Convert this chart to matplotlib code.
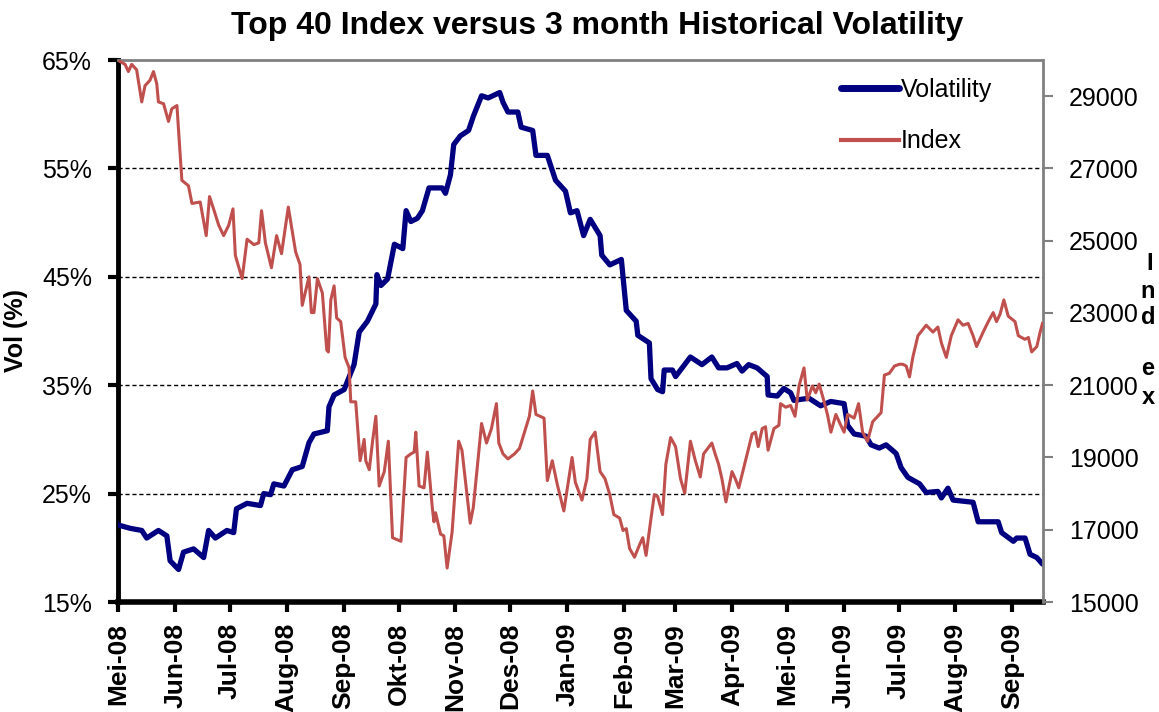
import matplotlib
matplotlib.use("Agg")
import matplotlib.pyplot as plt
from matplotlib import font_manager
import pandas as pd

# ---------------- data ----------------
start_date = "2008-05-01"

vol_days = [0, 6.4, 12.8, 15.5, 21.9, 26.5, 28.3, 32.9, 35.6, 41.1, 46.6, 49.3, 53, 59.3, 63, 64.5,
            70.3, 77.6, 79.4, 83.1, 84.9, 90.4, 95, 100.4, 104.1, 106.8, 114.1, 115, 117.8, 123.3,
            128.7, 131.5, 136, 140.6, 141.2, 143.4, 147, 150.7, 155.3,
            157.1, 159.7, 163.3, 166, 169.6, 176.8, 178.6, 181.3, 183.1, 186.7, 191.2, 193.8, 198.3,
            201.9, 208.2, 210, 212.7, 218.1, 219.9, 226.2, 228, 234.2, 238.7, 244.1, 246.8, 250.4,
            254, 257.6, 263, 263.9, 268.3, 274.6, 277.3, 282.7, 283.6, 289.9, 290.8, 294.4, 297.1,
            298, 302.5, 304.2, 312.3, 318.6, 324,
            327.7, 332.3, 337.7, 340.5, 344.1, 348.7, 354.2, 354.7, 359.7, 363.3, 367, 368.8, 377,
            383.4, 388.9, 396.2, 398.1, 401.7, 408.1, 410.9, 415.4, 419.1, 424.6, 427.3, 431, 437.4,
            441, 447.4, 449.3, 452.9, 455.7, 466.6, 469.4, 480.3, 482.2, 488.6, 490.4, 495, 497.7,
            501.4, 504.5]
vol_values = [22.1, 21.8, 21.6, 20.9, 21.6, 21.1, 18.8, 18.0, 19.6, 19.9, 19.1, 21.6, 20.9, 21.6, 21.4, 23.6,
              24.1, 23.9, 25.0, 24.9, 25.9, 25.7, 27.2, 27.5, 29.7, 30.5, 30.8, 33.0, 34.1, 34.6,
              36.9, 39.9, 40.9, 42.5, 45.2, 44.2, 44.8, 48.0, 47.6,
              51.1, 50.1, 50.4, 51.1, 53.2, 53.2, 52.7, 54.4, 57.2, 58.0, 58.5, 59.8, 61.7,
              61.5, 62.0, 61.1, 60.2, 60.2, 58.8, 58.5, 56.2, 56.2, 53.9, 52.9, 50.9, 51.1,
              48.8, 50.3, 48.8, 47.0, 46.1, 46.6, 41.9, 40.9, 39.6, 38.9, 35.6, 34.6, 34.4,
              36.4, 36.4, 35.8, 37.6, 36.9, 37.6,
              36.6, 36.6, 37.0, 36.3, 36.9, 36.6, 35.8, 34.1, 34.0, 34.7, 34.3, 33.6, 33.8,
              33.1, 33.5, 33.3, 31.3, 30.5, 30.3, 29.5, 29.2, 29.5, 28.7, 27.4, 26.5, 25.9,
              25.1, 25.2, 24.6, 25.5, 24.4, 24.2, 22.4, 22.4, 21.4, 20.6, 20.9, 20.9, 19.4,
              19.1, 18.5]

index_days = [0.9, 3.7, 5.5, 7.3, 10, 12.8, 14.6, 17.3, 19.2, 21, 21.9, 24.7, 27.4, 29.2, 32, 34.7,
              38.3, 40.2, 44.7, 48, 49.8, 52, 54.8, 57.5, 60.3, 62.6, 63.9, 67.6, 70.3, 74, 76.7,
              78.2, 80.3, 83.6, 86.4, 89.1, 92.8, 96.8, 99.2, 100.4, 104.1, 105.4, 106.8, 108.7,
              111.4, 113.8, 114.7, 116, 117.8, 119.2, 121.4, 123.8, 126, 126.9, 129.6, 132, 134.2,
              135.1, 137, 138.8, 140.6, 142.4, 145.2, 147.4, 149.7, 154.3,
              157.1, 159.7, 161.5, 162.4, 164.2, 166.9, 168.7, 171.4, 172.3, 173.2, 175.9, 177.7,
              179.5, 182.2, 185.8, 187.6, 192.1, 193.8, 198.3, 201, 203.7, 206.4, 207.7, 210, 212.7,
              216.3, 219, 221.7, 224.4, 226.2, 228, 232.4, 234.2, 236.9, 239.6, 243.2, 247.7, 249.5,
              253.1, 255.8, 257.6, 260.3, 263, 265.7, 268.3, 270.5, 273.7, 275.5, 277.3, 279.1,
              281.8, 284.5, 286.3, 288.1, 290.8, 292.6, 294.4, 297.1, 298.9, 301.5, 304.2, 306.9,
              309.2, 312.3, 315, 317.7, 319.5, 324, 325.8,
              327.7, 329.5, 331.7, 335, 336.8, 338.7, 341.4, 344.1, 346, 347.8, 349.3, 351.5, 353.3,
              354.7, 357.9, 360.6, 361.5, 364.3, 367, 369.4, 371.6, 374.3, 376.1, 378.9, 380.7,
              382.6, 385.3, 387.1, 389, 391.7, 394.4, 396.2, 398.1, 401.7, 404.1, 406.3, 409, 411.8,
              416.4, 418.2, 420.9, 423.7, 426.4, 428.2, 430.1, 431.9, 433.7, 436.5, 441, 444.7,
              447.4, 449.3, 452, 454.7, 458.4, 461.1, 463.9, 466.6, 468.5, 472.1, 474.9, 477.6,
              479.4, 481.3, 483.4, 485.8, 489.5, 491.3, 494.9, 496.8, 498.6, 501.4, 503.2, 504.5]
index_values = [29960, 29880, 29680, 29880, 29730, 28840, 29290, 29440, 29680, 29340, 28840, 28790, 28300,
                28650, 28740, 26670, 26520, 26030, 26070, 25140, 26220, 25880, 25430, 25140, 25430,
                25880, 24590, 23950, 25040, 24890, 24940, 25830, 24940, 24250, 25140, 24640, 25930,
                24690, 24340, 23210, 24000, 23010, 23010, 23950, 23550, 21970, 21920, 23360, 23750,
                22860, 22760, 21770, 21480, 20540, 20540, 18910, 19500, 18910, 18660, 19450, 20140,
                18210, 18610, 19450, 16780, 16680,
                19000, 19100, 19150, 19700, 18210, 18160, 19150, 17620, 17220, 17470, 16880, 16830,
                15940, 16930, 19450, 19200, 17180, 17620, 19940, 19400, 19800, 20490, 19400, 19100,
                18960, 19100, 19250, 19700, 20140, 20840, 20190, 20090, 18360, 18910, 18260, 17520,
                19000, 18310, 17820, 18410, 19500, 19700, 18610, 18410, 17970, 17420, 17320, 16980,
                17030, 16480, 16240, 16580, 16780, 16290, 17320, 17970, 17920, 17420, 18810, 19550,
                19300, 18410, 18010, 19450, 18910, 18460, 19100, 19400, 19100,
                18810, 18410, 17770, 18610, 18410, 18160, 18710, 19250, 19650, 19700, 19300, 19800,
                19850, 19200, 19800, 19890, 20490, 20390, 20440, 20140, 20980, 21480, 20590, 20980,
                20790, 21030, 20540, 20190, 19700, 20190, 19890, 19700, 20190, 20090, 20490, 19700,
                19450, 19990, 20240, 21280, 21330, 21530, 21580, 21580, 21530, 21230, 21770, 22370,
                22660, 22470, 22610, 22170, 21770, 22370, 22810, 22660, 22710, 22370, 22070, 22470,
                22760, 23010, 22760, 22960, 23360, 22910, 22760, 22370, 22270, 22320, 21920, 22070,
                22470, 22710]

month_labels = ["Mei-08", "Jun-08", "Jul-08", "Aug-08", "Sep-08", "Okt-08", "Nov-08", "Des-08",
                "Jan-09", "Feb-09", "Mar-09", "Apr-09", "Mei-09", "Jun-09", "Jul-09", "Aug-09", "Sep-09"]
vol_ticks = [15, 25, 35, 45, 55, 65]
index_ticks = [15000, 17000, 19000, 21000, 23000, 25000, 27000, 29000]

# ---------------- figure ----------------
W, H = 1159, 712
fig = plt.figure(figsize=(W / 100, H / 100), dpi=100)
plt.rcParams['font.family'] = ['Liberation Sans', 'DejaVu Sans']

ax = fig.add_axes([118.3 / W, 1 - 602 / H, (1042.5 - 118.3) / W, (602 - 60) / H])
ax2 = ax.twinx()

t0 = pd.Timestamp(start_date)
vol_dates = t0 + pd.to_timedelta(vol_days, unit="D")
idx_dates = t0 + pd.to_timedelta(index_days, unit="D")

navy = "#000080"
red = "#C0504D"

l1, = ax.plot(vol_dates, vol_values, color=navy, lw=3.8, solid_joinstyle="round",
              solid_capstyle="round", label="Volatility", zorder=3)
l2, = ax2.plot(idx_dates, index_values, color=red, lw=2.2, label="Index", zorder=3)

ax.set_ylim(15, 65)
ax2.set_ylim(15000, 30000)
ax.set_xlim(t0, vol_dates[-1])

# gridlines
for v in vol_ticks[1:-1]:
    ax.axhline(v, color="black", lw=1.0, linestyle=(0, (3, 2)), zorder=1)

month_pos = pd.date_range(start_date, periods=len(month_labels), freq="MS")
ax.set_xticks(month_pos)
ax.set_xticklabels(month_labels, rotation=90, fontsize=19, fontweight="bold")
ax.set_yticks(vol_ticks)
ax.set_yticklabels([f"{v}%" for v in vol_ticks], fontsize=18)
ax2.set_yticks(index_ticks)
ax2.set_yticklabels([str(v) for v in index_ticks], fontsize=18)

ax.tick_params(axis="x", direction="out", length=7, width=3, color="black", pad=8)
ax.tick_params(axis="y", direction="out", length=7, width=3, color="black", pad=12)
ax2.tick_params(axis="y", direction="out", length=7, width=1.5, color="#808080", pad=12)

for s in ["top", "right"]:
    ax.spines[s].set_visible(False)
ax.spines["left"].set_linewidth(3.5)
ax.spines["left"].set_color("black")
ax.spines["bottom"].set_linewidth(4)
ax.spines["bottom"].set_color("black")
for s in ["left", "bottom"]:
    ax2.spines[s].set_visible(False)
ax2.spines["top"].set_color("#808080")
ax2.spines["top"].set_linewidth(2)
ax2.spines["right"].set_color("#808080")
ax2.spines["right"].set_linewidth(2)
ax.set_zorder(1)
ax2.set_zorder(2)
ax2.patch.set_visible(False)

ax.set_ylabel("Vol (%)", fontsize=18, fontweight="bold", labelpad=10)

# legend
leg = ax2.legend(handles=[l1, l2], loc="upper left", bbox_to_anchor=(831 / W, 1 - 68 / H),
                 bbox_transform=fig.transFigure, frameon=False, fontsize=18,
                 handlelength=2.3, handletextpad=0.1, labelspacing=1.1, borderaxespad=0)
leg.get_lines()[0].set_linewidth(5)
leg.get_lines()[1].set_linewidth(3)

# title
names = {f.name for f in font_manager.fontManager.ttflist}
title = "Top 40 Index versus 3 month Historical Volatility"
if "Liberation Sans Narrow" in names:
    fig.text(597 / W, 1 - 26 / H, title, ha="center", va="center", fontsize=22,
             fontweight="bold", family="Liberation Sans Narrow")
else:
    fig.text(597 / W, 1 - 26 / H, title, ha="center", va="center", fontsize=23,
             fontweight="bold")

# stacked right-axis label
for ch, (px, py) in zip("Index", [(1150, 264), (1148, 291), (1148, 318), (1148, 368), (1148, 398)]):
    fig.text(px / W, 1 - py / H, ch, ha="center", va="center", fontsize=17, fontweight="bold")

fig.savefig("out.png", dpi=100)
